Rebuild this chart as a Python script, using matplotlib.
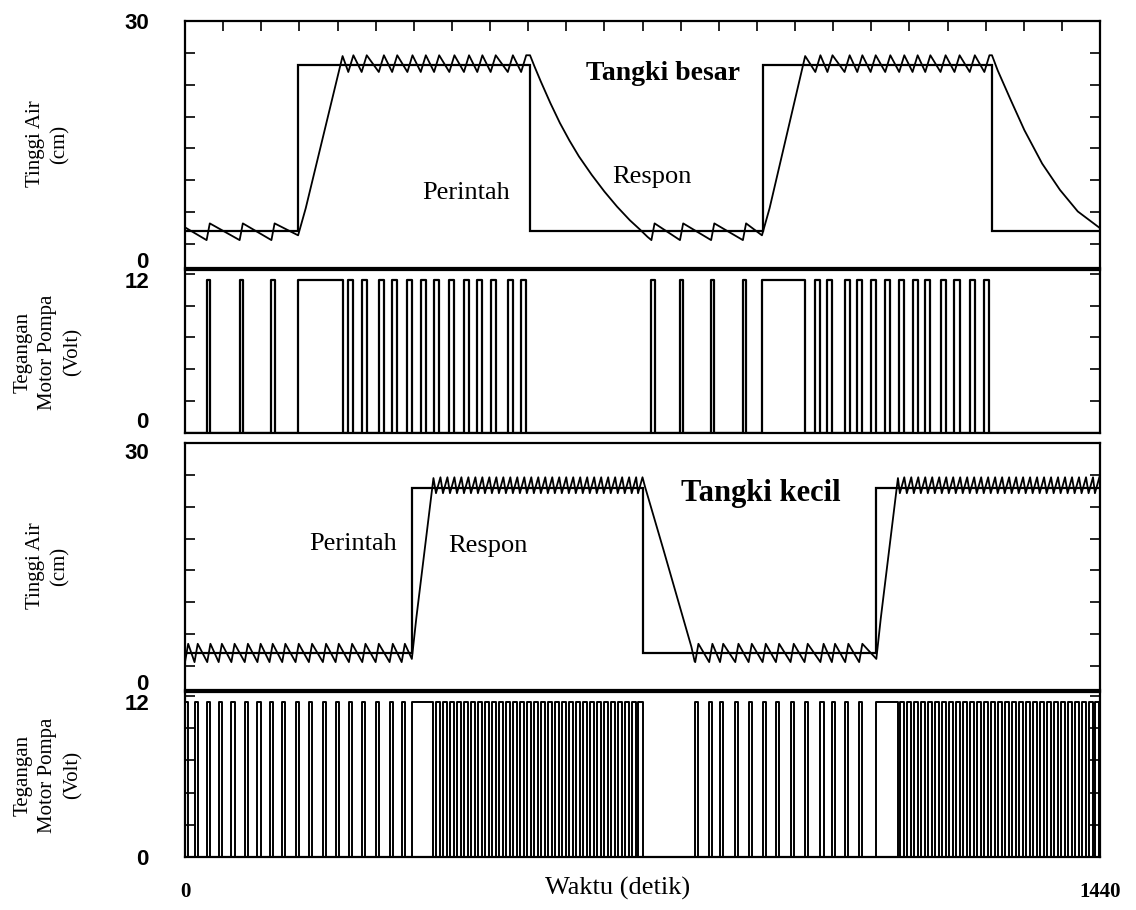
import numpy as np
import matplotlib.pyplot as plt

SERIF = ['Liberation Serif', 'DejaVu Serif']
SANS = ['Liberation Sans', 'DejaVu Sans']

# ---------------- data (waktu in detik, tinggi in cm, tegangan in volt) ----------------
t_end = 1440

# Tangki besar
besar_cmd_edges = [0, 178, 543, 910, 1270, 1440]
besar_cmd_levels = [3.6, 24.5, 3.6, 24.5, 3.6]

besar_low1_on = [34, 86, 136]
besar_wide1 = (178, 248)
besar_high1_on = [257, 278, 305, 326, 350, 371, 392, 416, 439, 460, 481, 508, 529]
besar_low2_on = [734, 779, 828, 878]
besar_wide2 = (908, 976)
besar_high2_on = [992, 1011, 1038, 1058, 1079, 1102, 1124, 1145, 1165, 1189, 1211, 1235, 1258]
besar_low_w = 5
besar_high_w = 8

besar_low_band = (2.5, 4.6)
besar_high_band = (23.6, 25.7)
besar_start = (0, 4.1)
besar_rise1 = ([178, 190, 248], [3.1, 6.5, 25.6])
besar_decay1 = ([543, 550, 560, 575, 590, 605, 620, 640, 660, 680, 700, 715, 728],
                [25.7, 24.3, 22.4, 19.7, 17.2, 15.0, 13.0, 10.7, 8.6, 6.7, 5.0, 3.9, 2.9])
besar_rise2 = ([908, 920, 976], [3.1, 6.5, 25.6])
besar_decay2 = ([1270, 1279, 1300, 1321, 1349, 1377, 1405, 1440],
                [25.7, 23.8, 20.0, 16.3, 12.1, 8.8, 6.1, 4.0])

# Tangki kecil
kecil_cmd_edges = [0, 357, 720, 1088, 1440]
kecil_cmd_levels = [3.6, 24.4, 3.6, 24.4]

kecil_low1_on = [0, 15, 35, 53, 73, 94, 114, 133, 153, 174, 195, 217, 237, 258,
                 279, 300, 322, 341]
kecil_wide1 = (357, 391)
kecil_high1_on = [395, 406, 417, 428, 439, 450, 461, 472, 483, 494, 505, 516, 527,
                  538, 549, 560, 571, 582, 593, 604, 615, 626, 637, 648, 659, 670,
                  681, 692, 703, 713]
kecil_low2_on = [803, 825, 842, 866, 887, 909, 930, 953, 975, 1000, 1018, 1039, 1061]
kecil_wide2 = (1088, 1122)
kecil_high2_on = [1125, 1136, 1147, 1158, 1169, 1180, 1191, 1202, 1213, 1224, 1235,
                  1246, 1257, 1268, 1279, 1290, 1301, 1312, 1323, 1334, 1345, 1356,
                  1367, 1378, 1389, 1400, 1411, 1422, 1432]
kecil_low_w = 5
kecil_high_w = 7

kecil_low_band = (2.5, 4.8)
kecil_high_band = (23.7, 25.7)
kecil_rise1 = ([357, 364, 391], [2.9, 8.0, 25.6])
kecil_decay1 = ([720, 724, 753, 779, 797, 802], [25.7, 24.5, 16.6, 9.4, 4.4, 2.6])
kecil_rise2 = ([1088, 1095, 1122], [2.9, 8.0, 25.6])

v_on = 12


# ---------------- helpers ----------------
def pulses(on_list, width):
    return [(s, s + width) for s in on_list]


def teeth(pulse_list, band):
    t, h = [], []
    for on, off in pulse_list:
        t += [on, off]
        h += [band[0], band[1]]
    return t, h


def volt_line(pulse_list):
    t, v = [0], [0]
    for on, off in pulse_list:
        t += [on, on, off, off]
        v += [0, v_on, v_on, 0]
    t.append(t_end)
    v.append(0)
    return t, v


def join(*parts):
    t, h = [], []
    for pt, ph in parts:
        t += list(pt)
        h += list(ph)
    return t, h


# Tangki besar series
b_low1 = pulses(besar_low1_on, besar_low_w)
b_high1 = pulses(besar_high1_on, besar_high_w)
b_low2 = pulses(besar_low2_on, besar_low_w)
b_high2 = pulses(besar_high2_on, besar_high_w)
besar_pump = b_low1 + [besar_wide1] + b_high1 + b_low2 + [besar_wide2] + b_high2
besar_t, besar_h = join(([besar_start[0]], [besar_start[1]]),
                        teeth(b_low1, besar_low_band), besar_rise1,
                        teeth(b_high1, besar_high_band), besar_decay1,
                        teeth(b_low2, besar_low_band), besar_rise2,
                        teeth(b_high2, besar_high_band), besar_decay2)

# Tangki kecil series
k_low1 = pulses(kecil_low1_on, kecil_low_w)
k_high1 = pulses(kecil_high1_on, kecil_high_w)
k_low2 = pulses(kecil_low2_on, kecil_low_w)
k_high2 = pulses(kecil_high2_on, kecil_high_w)
kecil_pump = k_low1 + [kecil_wide1] + k_high1 + k_low2 + [kecil_wide2] + k_high2
kecil_t, kecil_h = join(teeth(k_low1, kecil_low_band), kecil_rise1,
                        teeth(k_high1, kecil_high_band), kecil_decay1,
                        teeth(k_low2, kecil_low_band), kecil_rise2,
                        teeth(k_high2, kecil_high_band))

# ---------------- figure ----------------
W, H = 1136, 910
fig = plt.figure(figsize=(W / 100, H / 100), dpi=100)


def box(top, bottom, left=185, right=1100):
    return [left / W, 1 - bottom / H, (right - left) / W, (bottom - top) / H]


ax1 = fig.add_axes(box(21, 268))
ax2 = fig.add_axes(box(270, 433))
ax3 = fig.add_axes(box(443, 690))
ax4 = fig.add_axes(box(692, 857))


def style(ax, ylim, lab_pos, lab_txt, minor_pos):
    ax.set_xlim(0, t_end)
    ax.set_ylim(*ylim)
    for s in ax.spines.values():
        s.set_linewidth(1.6)
    ax.set_yticks(lab_pos)
    ax.set_yticklabels(lab_txt, fontfamily=SANS, fontweight='bold', fontsize=16)
    ax.tick_params(axis='y', which='major', length=0, pad=26)
    ax.set_yticks(minor_pos, minor=True)
    ax.tick_params(axis='y', which='minor', direction='in', length=7, width=1.2,
                   left=True, right=True)
    ax.set_xticks([])


style(ax1, (-1, 30), [0, 30], ['0', '30'], np.arange(2, 30, 4))
style(ax2, (0, 12.8), [0, 12], ['0', '12'], [2.5, 5, 7.5, 10, 12.5])
style(ax3, (-1, 30), [0, 30], ['0', '30'], np.arange(2, 30, 4))
style(ax4, (0, 12.8), [0, 12], ['0', '12'], [2.5, 5, 7.5, 10, 12.5])

# keep the "0" of panel 2 and the "30" of panel 3 apart
ax2.get_yticklabels()[0].set_verticalalignment('bottom')
ax3.get_yticklabels()[1].set_verticalalignment('top')

ax1.set_xticks(np.arange(60, t_end, 60), minor=True)
ax1.tick_params(axis='x', which='minor', direction='in', top=True, bottom=False,
                length=7, width=1.2)

ax4.set_xticks([0, t_end])
ax4.set_xticklabels(['0', '1440'], fontfamily=SERIF, fontweight='bold', fontsize=15)
ax4.tick_params(axis='x', which='major', length=0, pad=18)

# Tangki besar
ax1.stairs(besar_cmd_levels, besar_cmd_edges, color='black', lw=1.6, baseline=None)
ax1.plot(besar_t, besar_h, color='black', lw=1.3)
bt, bv = volt_line(besar_pump)
ax2.plot(bt, bv, color='black', lw=1.6)

# Tangki kecil
ax3.stairs(kecil_cmd_levels, kecil_cmd_edges, color='black', lw=1.6, baseline=None)
ax3.plot(kecil_t, kecil_h, color='black', lw=1.3)
kt, kv = volt_line(kecil_pump)
ax4.plot(kt, kv, color='black', lw=1.4)

# annotations
ax1.text(442, 8.4, 'Perintah', family=SERIF, fontsize=19, ha='center', va='center')
ax1.text(735, 10.4, 'Respon', family=SERIF, fontsize=19, ha='center', va='center')
ax1.text(752, 23.4, 'Tangki besar', family=SERIF, fontsize=20, fontweight='bold',
         ha='center', va='center')
ax3.text(265, 17.3, 'Perintah', family=SERIF, fontsize=19, ha='center', va='center')
ax3.text(476, 17.1, 'Respon', family=SERIF, fontsize=19, ha='center', va='center')
ax3.text(906, 23.6, 'Tangki kecil', family=SERIF, fontsize=22, fontweight='bold',
         ha='center', va='center')

# y labels
for yc, txt in [(144, 'Tinggi Air\n(cm)'), (352, 'Tegangan\nMotor Pompa\n(Volt)'),
                (566, 'Tinggi Air\n(cm)'), (775, 'Tegangan\nMotor Pompa\n(Volt)')]:
    fig.text(48 / W, 1 - yc / H, txt, family=SERIF, fontsize=15, rotation=90,
             ha='center', va='center', multialignment='center', linespacing=1.4)

fig.text(618 / W, 1 - 888 / H, 'Waktu (detik)', family=SERIF, fontsize=19,
         ha='center', va='center')

fig.savefig('out.png', dpi=100, facecolor='white')
